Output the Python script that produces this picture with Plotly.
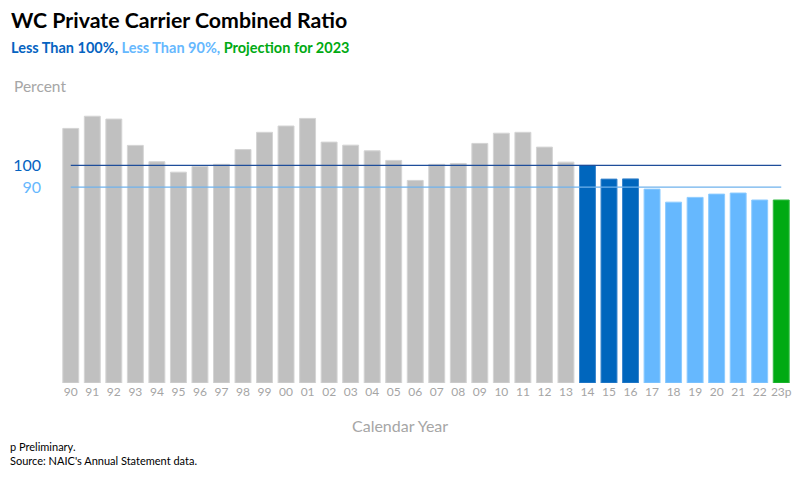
import plotly.graph_objects as go

years = ["90","91","92","93","94","95","96","97","98","99","00","01","02","03","04","05","06",
         "07","08","09","10","11","12","13","14","15","16","17","18","19","20","21","22","23p"]
ratios = [117.0,122.6,121.3,109.2,101.7,96.9,99.5,100.5,107.3,115.2,118.1,121.6,110.7,109.3,106.7,102.3,93.1,
          100.5,100.9,110.1,114.8,115.2,108.4,101.5,100.0,93.7,93.8,89.1,83.1,85.3,86.8,87.3,84.1,84.1]
groups = ["base"]*24 + ["lt100"]*3 + ["lt90"]*6 + ["proj"]

GRAY = "#C0C0C0"
DARK = "#0066BD"
LIGHT = "#66B8FE"
GREEN = "#00AA13"
palette = {"base": GRAY, "lt100": DARK, "lt90": LIGHT, "proj": GREEN}
edge = {"base": "#D4D4D4", "lt100": "#3A85CC", "lt90": "#8CCBFF", "proj": "#33BB44"}

FONT = "Lato"

# page body has an 8px margin, so the figure is sized 792x472 to fill the 800x480 window
PL, PT, PW, PH = 60, 111, 732, 272   # plot area in window coordinates


def px(x):
    return (x - PL) / PW


def py(y):
    return (PT + PH - y) / PH


fig = go.Figure()
fig.add_trace(go.Bar(
    x=years, y=ratios,
    marker=dict(color=[palette[g] for g in groups],
                line=dict(color=[edge[g] for g in groups], width=1)),
    width=0.74, hoverinfo="x+y",
))

fig.add_shape(type="line", xref="x", yref="y", x0=0, x1=len(years)-1, y0=100, y1=100,
              line=dict(color="#1F4E9A", width=1.2), layer="above")
fig.add_shape(type="line", xref="x", yref="y", x0=0, x1=len(years)-1, y0=90, y1=90,
              line=dict(color="#6FB2EC", width=1.2), layer="above")

fig.update_layout(
    width=792, height=472,
    paper_bgcolor="white", plot_bgcolor="white",
    margin=dict(l=PL-8, r=792-(PL-8)-PW, t=PT-8, b=472-(PT-8)-PH, autoexpand=False),
    showlegend=False,
    bargap=0.26,
    font=dict(family=FONT),
    xaxis=dict(type="category", showgrid=False, showline=False, zeroline=False, automargin=False,
               tickfont=dict(size=12, color="#A5A5A5", family=FONT), ticks=""),
    yaxis=dict(range=[0, 125], showgrid=False, zeroline=False, showline=False, automargin=False,
               tickvals=[90, 100],
               ticktext=["<span style='color:#66B8FE'>90</span>",
                         "<span style='color:#0563C1'>100</span>"],
               tickfont=dict(size=16, family=FONT), ticks="", ticklabelstandoff=18),
    annotations=[
        dict(text="<b>WC Private Carrier Combined Ratio</b>", xref="paper", yref="paper",
             x=px(9), y=py(20), xanchor="left", yanchor="middle", showarrow=False,
             font=dict(size=21.3, color="black", family=FONT)),
        dict(text="<b><span style='color:#0563C1'>Less Than 100%, </span>"
                  "<span style='color:#66B8FE'>Less Than 90%, </span>"
                  "<span style='color:#00AA13'>Projection for 2023</span></b>",
             xref="paper", yref="paper",
             x=px(9), y=py(48), xanchor="left", yanchor="middle", showarrow=False,
             font=dict(size=14.5, family=FONT)),
        dict(text="Percent", xref="paper", yref="paper",
             x=px(12), y=py(86), xanchor="left", yanchor="middle", showarrow=False,
             font=dict(size=15.5, color="#A6A6A6", family=FONT)),
        dict(text="Calendar Year", xref="paper", yref="paper",
             x=px(400), y=py(425), xanchor="center", yanchor="middle", showarrow=False,
             font=dict(size=16, color="#A6A6A6", family=FONT)),
        dict(text="p Preliminary.<br>Source: NAIC's Annual Statement data.", xref="paper", yref="paper",
             x=px(8), y=py(438), xanchor="left", yanchor="top", showarrow=False, align="left",
             font=dict(size=11, color="black", family=FONT)),
    ],
)

fig.write_html("out.html")
